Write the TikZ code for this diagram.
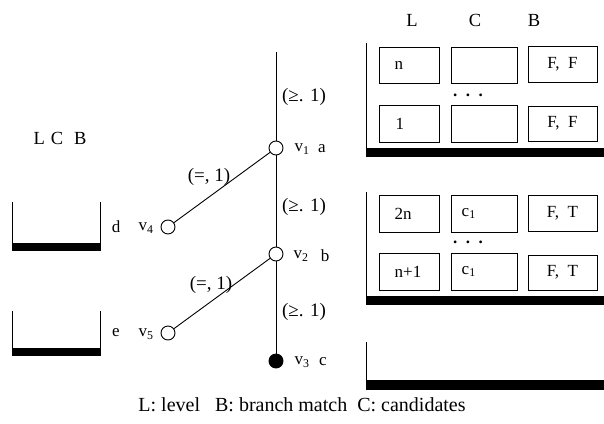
\documentclass[tikz,border=0pt]{standalone}
\usepackage{fontspec}
\setmainfont{Liberation Serif}
\begin{document}
\begin{tikzpicture}[x=1pt,y=-1pt,
  vtx/.style={circle,draw,line width=0.9pt,minimum size=14pt,inner sep=0pt,fill=white},
  edge/.style={line width=0.9pt},
  lbl/.style={inner sep=0pt,font=\fontsize{17}{19}\selectfont},
  elbl/.style={inner sep=0pt,font=\fontsize{19}{21}\selectfont},
  hdr/.style={inner sep=0pt,font=\fontsize{18.5}{21}\selectfont},
  cellbox/.style={draw,line width=1pt,rectangle,inner sep=0pt,font=\fontsize{17}{19}\selectfont},
  thick bar/.style={fill=black,draw=none},
  wall/.style={line width=1pt}
]
\useasboundingbox (0,0) rectangle (604,423);
% tree
\coordinate (top) at (276,52);
\node[vtx] (v1) at (276,148) {};
\node[vtx] (v2) at (276,254) {};
\node[vtx,fill=black] (v3) at (276,361) {};
\node[vtx] (v4) at (168,227) {};
\node[vtx] (v5) at (168,333) {};
\draw[edge] (top) -- (v1);
\draw[edge] (v1) -- (v2);
\draw[edge] (v2) -- (v3);
\draw[edge] (v1) -- (v4);
\draw[edge] (v2) -- (v5);
\node[elbl] (e1) at (304,97) {(≥. 1)};
\node[elbl] (e2) at (304,207) {(≥. 1)};
\node[elbl] (e3) at (304,312) {(≥. 1)};
\node[elbl] (e4) at (209,177) {(=, 1)};
\node[elbl] (e5) at (211,285) {(=, 1)};
\node[lbl] (n1) at (302,149) {v\textsubscript{1}};
\node[lbl] (a1) at (322,149) {a};
\node[lbl] (n2) at (301,256) {v\textsubscript{2}};
\node[lbl] (a2) at (325,256) {b};
\node[lbl] (n3) at (302,362) {v\textsubscript{3}};
\node[lbl] (a3) at (323,362) {c};
\node[lbl] (d4) at (116,227) {d};
\node[lbl] (n4) at (146,228) {v\textsubscript{4}};
\node[lbl] (d5) at (116,333) {e};
\node[lbl] (n5) at (146,334) {v\textsubscript{5}};
% left buckets
\node[hdr] (lcb) at (60,138) {L\hspace{6pt}C\hspace{11pt}B};
\draw[wall] (12,202) -- (12,250);
\draw[wall] (100,202) -- (100,250);
\fill[thick bar] (11.5,243) rectangle (100.5,251);
\draw[wall] (12,311) -- (12,355);
\draw[wall] (100,311) -- (100,355);
\fill[thick bar] (11.5,348) rectangle (100.5,356);
% right headers
\node[hdr] (hL) at (412,20) {L};
\node[hdr] (hC) at (475,20) {C};
\node[hdr] (hB) at (534,20) {B};
% frames
\draw[wall] (366,43) -- (366,157);
\fill[thick bar] (365.5,148) rectangle (604,157);
\draw[wall] (366,192) -- (366,305);
\fill[thick bar] (365.5,296) rectangle (604,305);
\draw[wall] (366,342) -- (366,390);
\fill[thick bar] (365.5,380) rectangle (604,390);
% frame 1 cells
\node[cellbox,minimum width=60pt,minimum height=36pt] (L11) at (409,65) {};
\node[cellbox,minimum width=66pt,minimum height=36pt] (C11) at (484,65) {};
\node[cellbox,minimum width=69pt,minimum height=36pt] (B11) at (562.5,64) {F,\ \ F};
\node[cellbox,minimum width=60pt,minimum height=37pt] (L12) at (409,123.5) {};
\node[cellbox,minimum width=66pt,minimum height=37pt] (C12) at (484,123.5) {};
\node[cellbox,minimum width=69pt,minimum height=35pt] (B12) at (562.5,123.5) {F,\ \ F};
\node[lbl,anchor=west] (t11) at ([xshift=16pt]L11.west) {n};
\node[lbl,anchor=west] (t12) at ([xshift=17pt]L12.west) {1};
\node[lbl] (dots1) at (468,95) {\textbf{.\ \ .\ \ .}};
% frame 2 cells
\node[cellbox,minimum width=60pt,minimum height=37pt] (L21) at (409,213.5) {};
\node[cellbox,minimum width=66pt,minimum height=37pt] (C21) at (484,213.5) {};
\node[cellbox,minimum width=69pt,minimum height=36pt] (B21) at (562.5,213) {F,\ \ T};
\node[cellbox,minimum width=60pt,minimum height=37pt] (L22) at (409,271.5) {};
\node[cellbox,minimum width=66pt,minimum height=37pt] (C22) at (484,271.5) {};
\node[cellbox,minimum width=69pt,minimum height=35pt] (B22) at (562.5,272.5) {F,\ \ T};
\node[lbl,anchor=west] (t21) at ([xshift=16pt]L21.west) {2n};
\node[lbl,anchor=west] (t22) at ([xshift=16pt]L22.west) {n+1};
\node[lbl,anchor=west] (c21) at ([xshift=11pt]C21.west) {c\textsubscript{1}};
\node[lbl,anchor=west] (c22) at ([xshift=11pt]C22.west) {c\textsubscript{1}};
\node[lbl] (dots2) at (468,242) {\textbf{.\ \ .\ \ .}};
% caption
\node[inner sep=0pt,font=\fontsize{20}{22}\selectfont] (cap) at (302,405) {L: level\ \ \ B: branch match\ \ C: candidates};
\end{tikzpicture}
\end{document}
